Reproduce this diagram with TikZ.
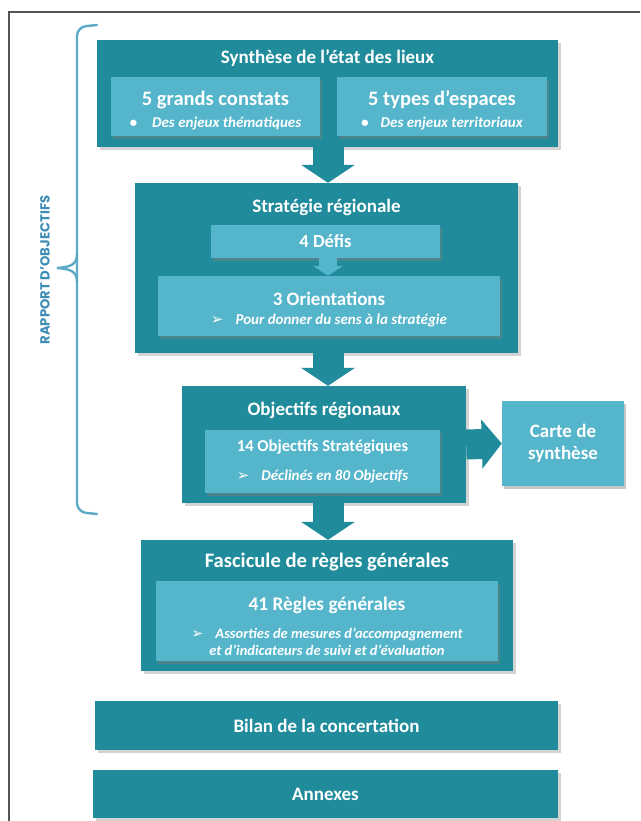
\documentclass[tikz,border=0pt]{standalone}
\usepackage{fontspec}
\setmainfont{Carlito}
\newfontfamily\sidefont{Poppins}
\newfontfamily\symfont{DejaVu Sans}
\usetikzlibrary{arrows.meta,shadows}
\definecolor{tealdark}{RGB}{31,139,155}
\definecolor{teallight}{RGB}{84,181,203}
\definecolor{bracketblue}{RGB}{92,170,200}
\definecolor{labelblue}{RGB}{62,141,180}
\definecolor{framegrey}{RGB}{85,85,85}
\newcommand{\puce}{\symfont\char"27A2}

\begin{document}
\begin{tikzpicture}[x=1pt,y=-1pt,line join=miter,
    outerbox/.style={fill=tealdark,draw=none,inner sep=0pt,
      drop shadow={shadow xshift=2.5pt,shadow yshift=-3pt,opacity=.35}},
    innerbox/.style={fill=teallight,draw=none,inner sep=0pt,text=white,align=center,
      drop shadow={shadow xshift=2pt,shadow yshift=-3pt,opacity=.45}},
    boxtitle/.style={text=white,font=\bfseries\fontsize{19}{22}\selectfont},
    bigarrow/.style={draw=tealdark,line width=31pt,-{Triangle[width=53pt,length=18pt]}},
    smallarrow/.style={draw=teallight,line width=18pt,-{Triangle[width=30pt,length=10pt]}},
    bracketline/.style={draw=bracketblue,line width=2.4pt,line cap=round},
    sidelabel/.style={text=labelblue,font=\sidefont\bfseries\fontsize{13.2}{15}\selectfont}]
  \useasboundingbox (0,0) rectangle (640,821);
  \draw[framegrey,line width=1.4pt] (9,821) -- (9,12) -- (640,12);
  \coordinate (axis) at (328,0);

  % bracket RAPPORT D'OBJECTIFS
  \draw[bracketline,rounded corners=9pt] (97,25) -- (77,27) -- (77,512) -- (97,514);
  \draw[bracketline] (77,254) .. controls (77,265) and (70,267) .. (57,268)
    .. controls (70,269) and (77,271) .. (77,282);
  \node[sidelabel,rotate=90] (rapport) at (45,270) {RAPPORT D’OBJECTIFS};

  % synthese
  \node[outerbox,minimum width=461,minimum height=107] (synth) at (327.5,93.5) {};
  \node[boxtitle] (synthT) at (327.5,58) {Synthèse de l’état des lieux};
  \node[innerbox,minimum width=209,minimum height=59] (constats) at (215.5,106.5)
    {{\bfseries\fontsize{20.5}{23}\selectfont\rule{0pt}{23pt}5 grands constats}\\[7pt]
     {\bfseries\itshape\fontsize{15}{17}\selectfont •\hspace{15pt}Des enjeux thématiques}};
  \node[innerbox,minimum width=210,minimum height=59] (espaces) at (442,106.5)
    {{\bfseries\fontsize{20.5}{23}\selectfont\rule{0pt}{23pt}5 types d’espaces}\\[7pt]
     {\bfseries\itshape\fontsize{15}{17}\selectfont •\hspace{12pt}Des enjeux territoriaux}};

  % strategie
  \node[outerbox,minimum width=383,minimum height=170] (strat) at (326.5,268) {};
  \node[boxtitle] (stratT) at (326.5,207) {Stratégie régionale};
  \node[innerbox,minimum width=229,minimum height=33,font=\bfseries\fontsize{18.5}{21}\selectfont]
    (defis) at (325.5,241.5) {4 Défis};
  \node[innerbox,minimum width=342,minimum height=60] (orient) at (329,306)
    {{\bfseries\fontsize{19}{22}\selectfont\rule{0pt}{20pt}3 Orientations}\\[7pt]
     {\bfseries\itshape\fontsize{15}{17}\selectfont {\puce}\hspace{12pt}Pour donner du sens à la stratégie}};
  \draw[smallarrow] (defis.south -| axis) -- (orient.north -| axis);

  % objectifs
  \node[outerbox,minimum width=284,minimum height=117] (obj) at (324,444.5) {};
  \node[boxtitle] (objT) at (324,410) {Objectifs régionaux};
  \node[innerbox,minimum width=235,minimum height=63] (objstrat) at (322.5,461.5)
    {{\bfseries\fontsize{16.6}{19}\selectfont 14 Objectifs Stratégiques}\\[15pt]
     {\bfseries\itshape\fontsize{15}{17}\selectfont {\puce}\hspace{12pt}Déclinés en 80 Objectifs}};
  \node[innerbox,minimum width=122,minimum height=85,
    font=\bfseries\fontsize{19}{22}\selectfont] (carte) at (563,443.5) {Carte de\\synthèse};

  % fascicule
  \node[outerbox,minimum width=372,minimum height=131] (fasc) at (327,605.5) {};
  \node[boxtitle,font=\bfseries\fontsize{20.6}{23}\selectfont] (fascT) at (327,562)
    {Fascicule de règles générales};
  \node[innerbox,minimum width=342,minimum height=80] (regles) at (327,621)
    {{\bfseries\fontsize{19.3}{22}\selectfont\rule{0pt}{24pt}41 Règles générales}\\[13pt]
     {\bfseries\itshape\fontsize{14.5}{17}\selectfont {\puce}\hspace{12pt}Assorties de mesures d’accompagnement}\\[3pt]
     {\bfseries\itshape\fontsize{14.5}{17}\selectfont et d’indicateurs de suivi et d’évaluation}};

  % bilan, annexes
  \node[outerbox,minimum width=463,minimum height=49,text=white,
    font=\bfseries\fontsize{19}{22}\selectfont] (bilan) at (326.5,725.5) {Bilan de la concertation};
  \node[outerbox,minimum width=465,minimum height=48,text=white,
    font=\bfseries\fontsize{19}{22}\selectfont] (annexes) at (325.5,794) {Annexes};

  % fleches
  \draw[bigarrow] (synth.south -| axis) -- (strat.north -| axis);
  \draw[bigarrow] (strat.south -| axis) -- (obj.north -| axis);
  \draw[bigarrow] (obj.south -| axis) -- (fasc.north -| axis);
  \draw[bigarrow,line width=30pt,-{Triangle[width=48pt,length=20pt]}] (obj.east) -- (carte.west);
\end{tikzpicture}
\end{document}
